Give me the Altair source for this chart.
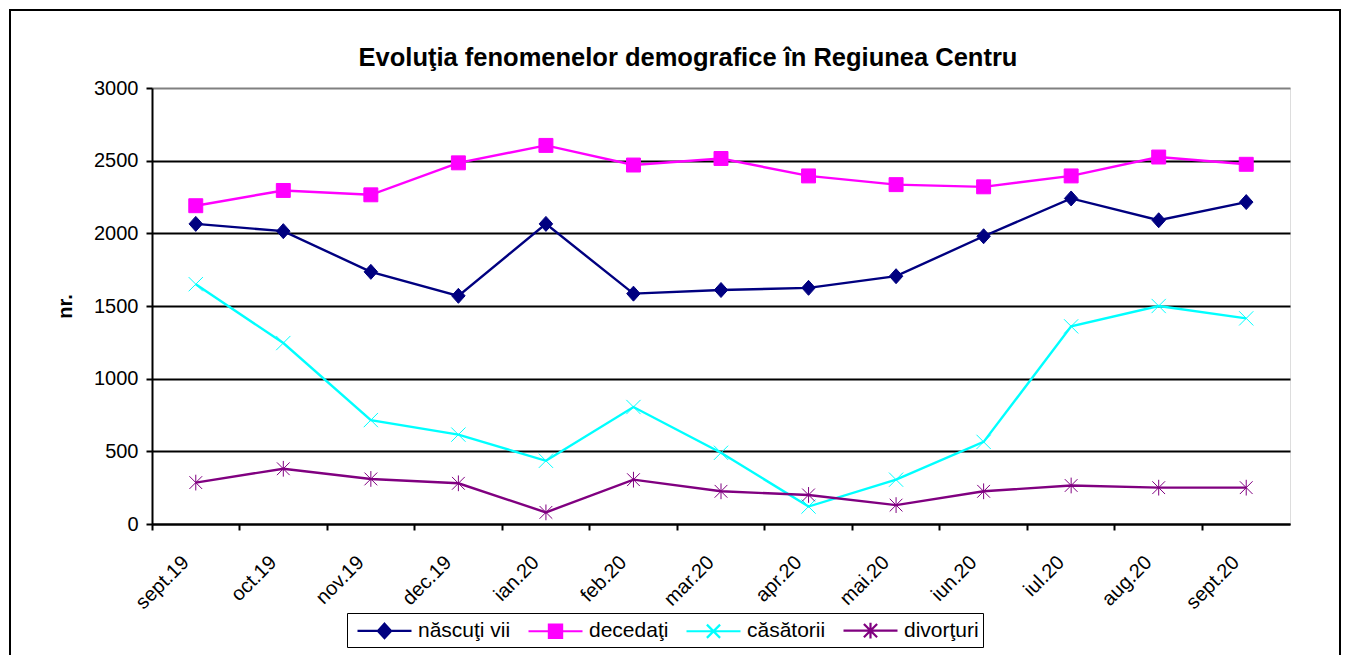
import altair as alt
import pandas as pd

months = ["sept.19", "oct.19", "nov.19", "dec.19", "ian.20", "feb.20", "mar.20",
          "apr.20", "mai.20", "iun.20", "iul.20", "aug.20", "sept.20"]
nascuti = [2065, 2015, 1735, 1570, 2065, 1585, 1610, 1625, 1705, 1980, 2240, 2090, 2215]
decedati = [2190, 2295, 2265, 2485, 2605, 2470, 2515, 2395, 2335, 2320, 2395, 2525, 2475]
casatorii = [1650, 1245, 715, 615, 435, 805, 490, 120, 305, 565, 1360, 1500, 1415]
divorturi = [285, 380, 310, 280, 80, 305, 225, 200, 130, 225, 265, 250, 250]

series_names = ["născuţi vii", "decedaţi", "căsătorii", "divorţuri"]
colors = ["#000080", "#FF00FF", "#00FFFF", "#800080"]
title_text = "Evoluţia fenomenelor demografice în Regiunea Centru"
y_ticks = [0, 500, 1000, 1500, 2000, 2500, 3000]

rows = []
for name, vals in zip(series_names, [nascuti, decedati, casatorii, divorturi]):
    for m, v in zip(months, vals):
        rows.append({"month": m, "value": v, "series": name})
df = pd.DataFrame(rows)

FONT = "Liberation Sans"

marker_paths = [
    "M0,-1L0.9,0L0,1L-0.9,0Z",
    "M-0.93,-0.93L0.93,-0.93L0.93,0.93L-0.93,0.93Z",
    "M-0.95,-0.95L0.95,0.95M-0.95,0.95L0.95,-0.95",
    "M-0.85,-0.85L0.85,0.85M-0.85,0.85L0.85,-0.85M0,-1.05L0,1.05",
]
line_seg = "M-2.25,0L2.25,0"
legend_paths = [
    line_seg + "M0,-0.6L0.55,0L0,0.6L-0.55,0Z",
    line_seg + "M-0.55,-0.55L0.55,-0.55L0.55,0.55L-0.55,0.55Z",
    line_seg + "M-0.55,-0.55L0.55,0.55M-0.55,0.55L0.55,-0.55",
    line_seg + "M-0.55,-0.55L0.55,0.55M-0.55,0.55L0.55,-0.55M0,-0.65L0,0.65",
]

x_enc = alt.X(
    "month:N", sort=months, title=None,
    scale=alt.Scale(type="band", paddingInner=0, paddingOuter=0, domain=months),
    axis=alt.Axis(bandPosition=0, labelAngle=-45, labelAlign="right", labelBaseline="middle",
                  labelOffset=-10, labelPadding=29, tickSize=6, tickWidth=2, tickColor="black",
                  domainColor="black", domainWidth=2, labelFont=FONT, labelFontSize=20,
                  labelColor="black", labelOverlap=False, grid=False),
)
y_enc = alt.Y(
    "value:Q", title="nr.",
    scale=alt.Scale(domain=[0, 3000], nice=False, zero=True),
    axis=alt.Axis(values=y_ticks, format="d", tickSize=6, tickWidth=2, tickColor="black",
                  domainColor="black", domainWidth=2, labelFont=FONT, labelFontSize=20,
                  labelColor="black", labelPadding=8, labelOverlap=False,
                  grid=True, gridWidth=1.8,
                  gridColor={"condition": {"test": "datum.value === 3000", "value": "#808080"}, "value": "black"},
                  titleFont=FONT, titleFontSize=20, titleFontWeight="bold", titleColor="black",
                  titleAngle=-90, titleX=-87, titleY=218, titleAlign="center", titleBaseline="middle"),
)

cscale = alt.Scale(domain=series_names, range=colors)

frame = alt.Chart(pd.DataFrame({"a": [0]})).mark_rect(
    fillOpacity=0, stroke="black", strokeWidth=2
).encode(x=alt.value(-142), x2=alt.value(1188), y=alt.value(-78), y2=alt.value(640))

lines = alt.Chart(df).mark_line(strokeWidth=2.4).encode(
    x=x_enc, y=y_enc,
    color=alt.Color("series:N", scale=cscale, legend=None),
)

points = alt.Chart(df).mark_point(filled=True, opacity=1, size=225).encode(
    x=x_enc, y=y_enc,
    fill=alt.Fill("series:N", scale=cscale, legend=None),
    stroke=alt.Stroke("series:N", scale=cscale, legend=None),
    shape=alt.Shape("series:N", scale=alt.Scale(domain=series_names, range=marker_paths), legend=None),
    strokeWidth=alt.StrokeWidth("series:N", scale=alt.Scale(domain=series_names, range=[1, 1, 2.5, 2.5]), legend=None),
)

leg = alt.Legend(
    title=None, orient="none", legendX=195, legendY=525, direction="horizontal",
    strokeColor="black", fillColor="white", padding=4,
    labelFont=FONT, labelFontSize=21, labelColor="black",
    symbolSize=576, symbolStrokeWidth=2.2, symbolOffset=20, labelOffset=20,
    columnPadding=11, labelLimit=300,
)
legend_layer = alt.Chart(df).transform_filter("false").mark_point(filled=True, opacity=1).encode(
    x=x_enc, y=y_enc,
    fill=alt.Fill("series:N", scale=cscale, legend=leg),
    stroke=alt.Stroke("series:N", scale=cscale, legend=leg),
    shape=alt.Shape("series:N", scale=alt.Scale(domain=series_names, range=legend_paths), legend=leg),
)

chart = alt.layer(frame, lines, points, legend_layer).resolve_scale(
    fill="independent", stroke="independent", shape="independent", strokeWidth="independent"
).properties(
    width=1138, height=436,
    title=alt.TitleParams(text=title_text, font=FONT, fontSize=25.5, fontWeight="bold", color="black",
                          anchor="middle", dx=-33, offset=-82, baseline="alphabetic", frame="group"),
    autosize=alt.AutoSizeParams(type="none"),
    padding={"left": 144, "top": 80, "right": 51, "bottom": 150},
).configure_view(
    fill="#FFFFCC", stroke="#808080", strokeWidth=2
).configure_legend(
    strokeWidth=2
).configure(background="white")

chart.save("out.html", embed_options={"renderer": "svg", "actions": False})
